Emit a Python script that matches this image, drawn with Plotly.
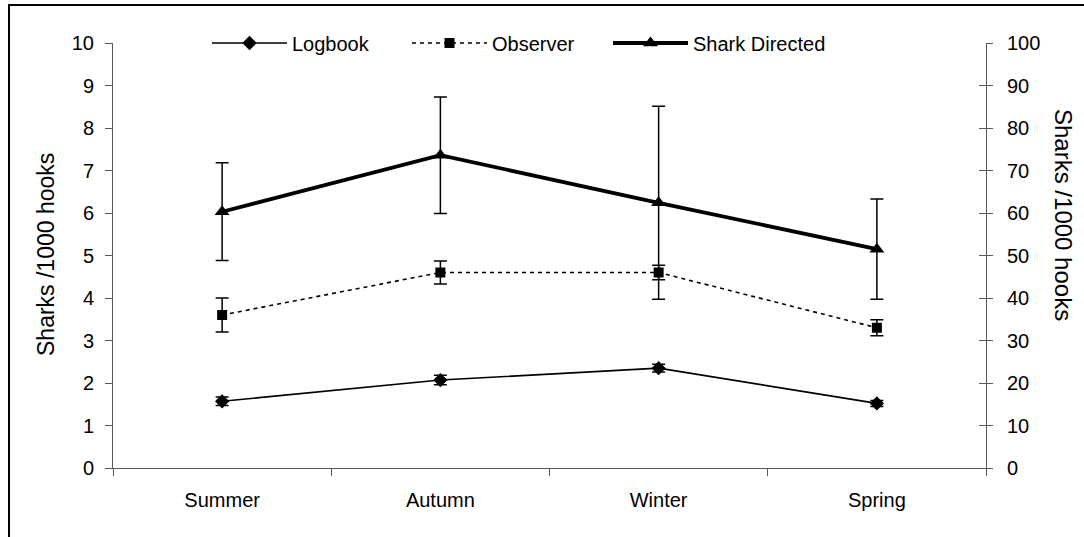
import plotly.graph_objects as go

seasons = ["Summer", "Autumn", "Winter", "Spring"]
logbook = [1.57, 2.07, 2.35, 1.52]
logbook_err = [0.10, 0.11, 0.09, 0.07]
observer = [3.6, 4.6, 4.6, 3.3]
observer_err = [0.40, 0.27, 0.17, 0.19]
shark = [60.3, 73.6, 62.4, 51.5]
shark_err = [11.5, 13.7, 22.7, 11.8]

left_ticks = list(range(0, 11))
right_ticks = list(range(0, 101, 10))

FONT = "Liberation Sans, Arial, sans-serif"
TXT = 20

fig = go.Figure()

err_style = dict(type="data", visible=True, color="black", thickness=1.5, width=6.5)

fig.add_trace(go.Scatter(
    x=seasons, y=logbook, name="Logbook", mode="lines+markers",
    line=dict(color="black", width=1.6),
    marker=dict(symbol="diamond", size=11, color="black"),
    error_y=dict(array=logbook_err, **err_style),
    yaxis="y", cliponaxis=False, legend="legend",
))
fig.add_trace(go.Scatter(
    x=seasons, y=observer, name="Observer", mode="lines+markers",
    line=dict(color="black", width=1.6, dash="4px,4px"),
    marker=dict(symbol="square", size=10, color="black"),
    error_y=dict(array=observer_err, **err_style),
    yaxis="y", cliponaxis=False, legend="legend2",
))
fig.add_trace(go.Scatter(
    x=seasons, y=shark, name="Shark Directed", mode="lines+markers",
    line=dict(color="black", width=3.8),
    marker=dict(symbol="triangle-up", size=13, color="black"),
    error_y=dict(array=shark_err, **err_style),
    yaxis="y2", cliponaxis=False, legend="legend3",
))

axis_col = "#595959"


def legend_box(x):
    return dict(
        orientation="h", x=x, xanchor="left", y=1.0, yanchor="middle",
        font=dict(family=FONT, size=TXT, color="black"),
        bgcolor="rgba(0,0,0,0)", itemwidth=75,
    )


fig.update_layout(
    width=1084, height=537, autosize=False,
    margin=dict(l=113, r=98, t=43, b=69, pad=0),
    paper_bgcolor="white", plot_bgcolor="white",
    font=dict(family=FONT, size=TXT, color="black"),
    showlegend=True,
    legend=legend_box((207 - 113) / 873),
    legend2=legend_box((407 - 113) / 873),
    legend3=legend_box((608 - 113) / 873),
    xaxis=dict(
        type="category", categoryorder="array", categoryarray=seasons,
        range=[-0.5, 3.5], showgrid=False, zeroline=False,
        showline=True, linecolor=axis_col, linewidth=1,
        ticks="outside", tickson="boundaries", ticklen=7, tickcolor=axis_col,
        ticklabelstandoff=14,
        tickfont=dict(family=FONT, size=TXT, color="black"),
    ),
    yaxis=dict(
        range=[0, 10], tickvals=left_ticks, ticktext=[str(v) for v in left_ticks],
        showgrid=False, zeroline=False,
        showline=True, linecolor=axis_col, linewidth=1,
        ticks="outside", ticklen=7, tickcolor=axis_col, ticklabelstandoff=7,
        tickfont=dict(family=FONT, size=TXT, color="black"),
    ),
    yaxis2=dict(
        range=[0, 100], tickvals=right_ticks, ticktext=[str(v) for v in right_ticks],
        overlaying="y", side="right", anchor="x",
        showgrid=False, zeroline=False,
        showline=True, linecolor=axis_col, linewidth=1,
        ticks="outside", ticklen=6, tickcolor=axis_col, ticklabelstandoff=10,
        tickfont=dict(family=FONT, size=TXT, color="black"),
    ),
    yaxis3=dict(
        range=[0, 100], tickvals=right_ticks, showticklabels=False,
        overlaying="y", side="right", anchor="x",
        showgrid=False, zeroline=False, showline=False,
        ticks="inside", ticklen=7, tickcolor=axis_col,
    ),
)

# invisible trace so the inner-tick axis (crossing ticks on the right) renders
fig.add_trace(go.Scatter(x=seasons, y=shark, yaxis="y3", mode="none",
                         showlegend=False, hoverinfo="skip"))

# axis titles
fig.add_annotation(text="Sharks /1000 hooks", xref="paper", yref="paper",
                   x=(46 - 113) / 873, y=(468 - 255) / 425, textangle=-90,
                   showarrow=False, xanchor="center", yanchor="middle",
                   font=dict(family=FONT, size=23, color="black"))
fig.add_annotation(text="Sharks /1000 hooks", xref="paper", yref="paper",
                   x=(1063 - 113) / 873, y=(468 - 215) / 425, textangle=90,
                   showarrow=False, xanchor="center", yanchor="middle",
                   font=dict(family=FONT, size=24, color="black"))

# outer chart frame (extends past right/bottom edges as in the reference)
fig.add_shape(type="rect", xref="paper", yref="paper",
              x0=(9 - 113) / 873, x1=(1100 - 113) / 873,
              y0=(468 - 560) / 425, y1=(468 - 5) / 425,
              line=dict(color="black", width=2), fillcolor="rgba(0,0,0,0)",
              layer="below")

fig.write_html("out.html")
